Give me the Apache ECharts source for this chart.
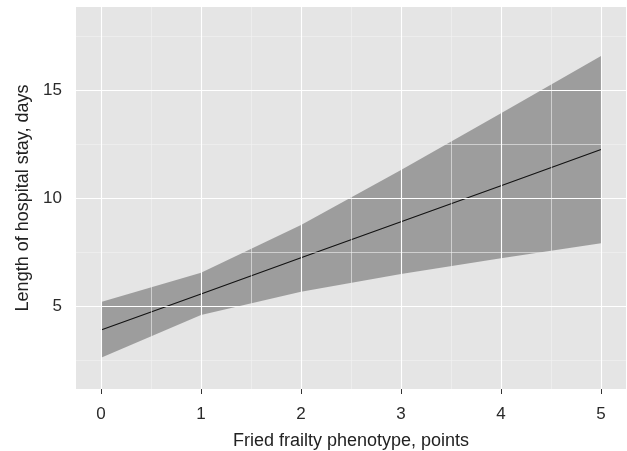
<!DOCTYPE html>
<html>
<head>
<meta charset="utf-8">
<script src="https://cdn.jsdelivr.net/npm/echarts@6/dist/echarts.min.js"></script>
<style>html,body{margin:0;padding:0;background:#fff;}#c{width:627px;height:451px;}</style>
</head>
<body>
<div id="c"></div>
<script>
const xValues = [0, 1, 2, 3, 4, 5];
const fit = [3.89, 5.56, 7.23, 8.90, 10.57, 12.24];
const upper = [5.19, 6.54, 8.75, 11.30, 13.92, 16.57];
const lower = [2.61, 4.58, 5.66, 6.48, 7.21, 7.90];
const xTicks = [0, 1, 2, 3, 4, 5];
const xMinor = [0.5, 1.5, 2.5, 3.5, 4.5];
const yTicks = [5, 10, 15];
const yMinor = [2.5, 7.5, 12.5, 17.5];
const xTitle = 'Fried frailty phenotype, points';
const yTitle = 'Length of hospital stay, days';

const font = '"Liberation Sans", Arial, Helvetica, sans-serif';
const chart = echarts.init(document.getElementById('c'), null, {renderer: 'canvas'});

const gridLines = [];
xMinor.forEach(v => gridLines.push({xAxis: v, lineStyle: {color: '#F2F2F2', width: 0.6, type: 'solid'}}));
yMinor.forEach(v => gridLines.push({yAxis: v, lineStyle: {color: '#F2F2F2', width: 0.6, type: 'solid'}}));
xTicks.forEach(v => gridLines.push({xAxis: v, lineStyle: {color: '#FFFFFF', width: 1.1, type: 'solid'}}));
yTicks.forEach(v => gridLines.push({yAxis: v, lineStyle: {color: '#FFFFFF', width: 1.1, type: 'solid'}}));

const bandRows = xValues.map((x, i) => [x, lower[i], upper[i]]);

chart.setOption({
  animation: false,
  backgroundColor: '#ffffff',
  grid: {left: 76, right: 1, top: 7, bottom: 62, show: true, backgroundColor: '#E5E5E5', borderWidth: 0,
         containLabel: false, outerBoundsMode: 'none'},
  xAxis: {
    type: 'value', min: -0.25, max: 5.25,
    name: xTitle, nameLocation: 'middle', nameGap: 43,
    nameTextStyle: {fontFamily: font, fontSize: 18, color: '#222'},
    axisLine: {show: false},
    axisTick: {show: true, length: 5, customValues: xTicks, lineStyle: {color: '#333', width: 1}},
    axisLabel: {customValues: xTicks, margin: 17, fontFamily: font, fontSize: 17, color: '#2a2a2a'},
    splitLine: {show: false}
  },
  yAxis: {
    type: 'value', min: 1.16, max: 18.84,
    name: yTitle, nameLocation: 'middle', nameGap: 36,
    nameTextStyle: {fontFamily: font, fontSize: 18, color: '#222'},
    axisLine: {show: false},
    axisTick: {show: true, length: 5, customValues: yTicks, lineStyle: {color: '#333', width: 1}},
    axisLabel: {customValues: yTicks, margin: 14, fontFamily: font, fontSize: 17, color: '#2a2a2a'},
    splitLine: {show: false}
  },
  series: [
    {
      type: 'line', z: 1, silent: true,
      data: xValues.map((x, i) => [x, fit[i]]),
      showSymbol: false, lineStyle: {opacity: 0},
      markLine: {silent: true, symbol: 'none', label: {show: false}, animation: false, data: gridLines}
    },
    {
      type: 'custom', z: 2, silent: true,
      data: bandRows,
      renderItem: function (params, api) {
        if (params.dataIndex !== 0) return null;
        const pts = [];
        bandRows.forEach(r => pts.push(api.coord([r[0], r[2]])));
        for (let i = bandRows.length - 1; i >= 0; i--) pts.push(api.coord([bandRows[i][0], bandRows[i][1]]));
        return {type: 'polygon', shape: {points: pts}, style: {fill: 'rgba(51,51,51,0.4)'}};
      }
    },
    {
      type: 'line', z: 3, silent: true,
      data: xValues.map((x, i) => [x, fit[i]]),
      showSymbol: false, lineStyle: {color: '#111', width: 1.1}
    }
  ]
});
</script>
</body>
</html>
